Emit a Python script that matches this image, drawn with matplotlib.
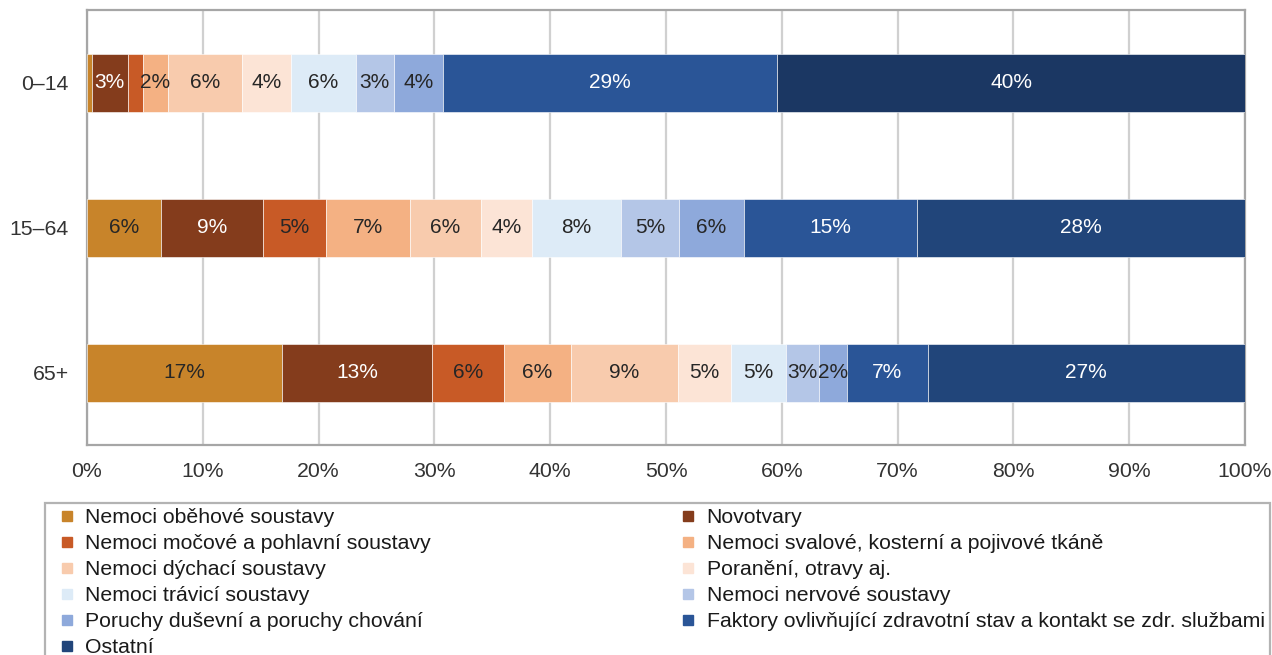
import matplotlib
matplotlib.use("Agg")
import matplotlib.pyplot as plt
from matplotlib.lines import Line2D

plt.rcParams["font.family"] = ["Liberation Sans", "DejaVu Sans"]

# Age groups (top to bottom)
age_groups = ["0–14", "15–64", "65+"]

# Diagnosis groups in stacking order
diagnoses = [
    "Nemoci oběhové soustavy",
    "Novotvary",
    "Nemoci močové a pohlavní soustavy",
    "Nemoci svalové, kosterní a pojivové tkáně",
    "Nemoci dýchací soustavy",
    "Poranění, otravy aj.",
    "Nemoci trávicí soustavy",
    "Nemoci nervové soustavy",
    "Poruchy duševní a poruchy chování",
    "Faktory ovlivňující zdravotní stav a kontakt se zdr. službami",
    "Ostatní",
]

# Share of each diagnosis group (%) per age group
share_0_14 = [0.4, 3.1, 1.3, 2.2, 6.4, 4.2, 5.6, 3.3, 4.2, 28.9, 40.4]
share_15_64 = [6.4, 8.8, 5.4, 7.3, 6.1, 4.4, 7.7, 5.0, 5.6, 15.0, 28.3]
share_65 = [16.8, 13.0, 6.2, 5.8, 9.2, 4.6, 4.8, 2.8, 2.4, 7.0, 27.4]
shares = [share_0_14, share_15_64, share_65]

colors = [
    "#C8842A", "#843C1C", "#C85A26", "#F4B183", "#F8CBAD", "#FCE4D6",
    "#DDEBF7", "#B4C6E7", "#8EA9DB", "#2A5597", "#21457A",
]
ostatni_first_row = "#1B3763"
white_label = {1, 9, 10}

FS = 15.3

fig = plt.figure(figsize=(12.72, 6.55), dpi=100)
ax = fig.add_axes([87 / 1272, 1 - 445 / 655, (1245 - 87) / 1272, 435 / 655])

ypos = list(range(len(age_groups)))
for row, vals in enumerate(shares):
    left = 0.0
    for k, v in enumerate(vals):
        c = colors[k]
        if k == 10 and row == 0:
            c = ostatni_first_row
        ax.barh(ypos[row], v, left=left, height=0.4, color=c,
                edgecolor="white", linewidth=0.4, zorder=3)
        if v >= 1.5:
            ax.text(left + v / 2, ypos[row], f"{v:.0f}%", ha="center",
                    va="center", fontsize=15,
                    color="white" if k in white_label else "#262626",
                    zorder=4)
        left += v

ax.set_xlim(0, 100)
ax.set_ylim(2.5, -0.5)
ax.set_xticks(range(0, 101, 10))
ax.set_xticklabels([f"{t}%" for t in range(0, 101, 10)])
ax.set_yticks(ypos)
ax.set_yticklabels(age_groups)
ax.tick_params(axis="both", length=0, labelsize=FS, colors="#333333")
ax.tick_params(axis="x", pad=12)
ax.tick_params(axis="y", pad=13)
ax.grid(axis="x", color="#D0D0D0", linewidth=1.6, zorder=0)
ax.set_axisbelow(True)
for s in ax.spines.values():
    s.set_color("#A6A6A6")
    s.set_linewidth(1.6)

# Legend laid out row by row in two columns
handles = [Line2D([], [], marker="s", linestyle="none", markersize=7.5,
                  markerfacecolor=colors[k], markeredgecolor=colors[k])
           for k in range(len(diagnoses))]
order = list(range(0, 11, 2)) + list(range(1, 11, 2))
leg = fig.legend([handles[i] for i in order], [diagnoses[i] for i in order],
                 ncol=2, loc="upper left",
                 bbox_to_anchor=(45 / 1272, 1 - 503 / 655, (1270 - 45) / 1272, 0.0),
                 mode="expand", borderaxespad=0.0, fontsize=FS,
                 frameon=True, fancybox=False, edgecolor="#A0A0A0",
                 handlelength=1.55, handletextpad=0.1, labelspacing=0.33,
                 borderpad=0.25, columnspacing=1.0)
leg.get_frame().set_linewidth(1.6)
for t in leg.get_texts():
    t.set_color("#1A1A1A")

fig.savefig("out.png", dpi=100)
